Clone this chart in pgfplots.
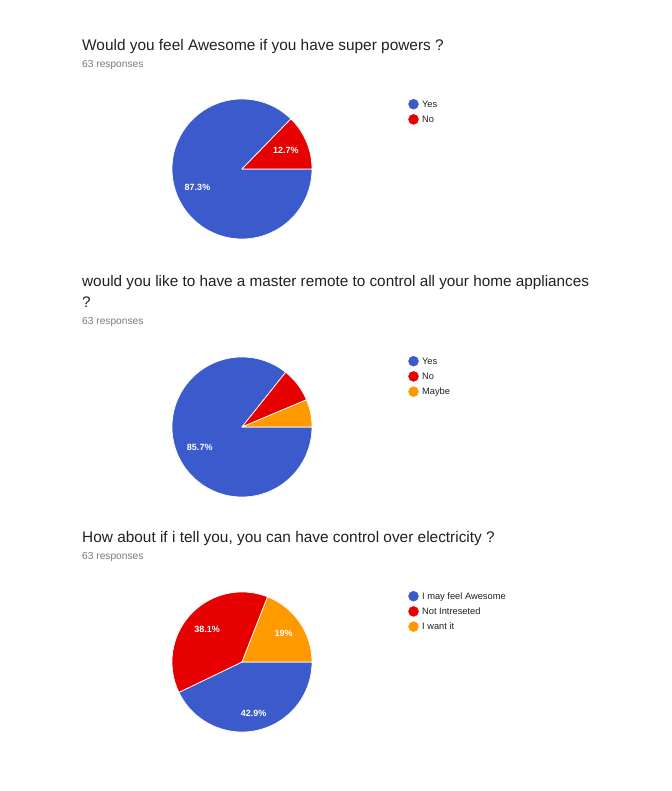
\documentclass[border=0pt]{standalone}
\usepackage{fontspec}
\setmainfont{Liberation Sans}
\usepackage{pgfplots}
\usepackage{pgfplotstable}
\pgfplotsset{compat=1.18}
\definecolor{gblue}{HTML}{3B5BCC}
\definecolor{gred}{HTML}{E60000}
\definecolor{gorange}{HTML}{FF9900}
\definecolor{ttl}{HTML}{212121}
\definecolor{sub}{HTML}{7A7A7A}

\pgfplotstableread[col sep=comma]{
label,count
Yes,55
No,8
}\pieA
\pgfplotstableread[col sep=comma]{
label,count
Yes,54
No,5
Maybe,4
}\pieB
\pgfplotstableread[col sep=comma]{
label,count
I may feel Awesome,27
Not Intreseted,24
I want it,12
}\pieC

\newcommand\getc[3]{\pgfplotstablegetelem{#2}{count}\of#1\let#3\pgfplotsretval}
\getc\pieA{0}\cAa \getc\pieA{1}\cAb
\getc\pieB{0}\cBa \getc\pieB{1}\cBb \getc\pieB{2}\cBc
\getc\pieC{0}\cCa \getc\pieC{1}\cCb \getc\pieC{2}\cCc
% pie A: No from 0, Yes after
\pgfmathsetmacro\angA{360*\cAb/(\cAa+\cAb)}
\pgfmathsetmacro\midAa{(\angA+360)/2}
\pgfmathsetmacro\midAb{\angA/2}
% pie B: Maybe from 0, then No, then Yes
\pgfmathsetmacro\totB{\cBa+\cBb+\cBc}
\pgfmathsetmacro\angBa{360*\cBc/\totB}
\pgfmathsetmacro\angBb{\angBa+360*\cBb/\totB}
\pgfmathsetmacro\midBa{(\angBb+360)/2}
% pie C: I want it from 0, then Not Intreseted, then I may feel Awesome
\pgfmathsetmacro\totC{\cCa+\cCb+\cCc}
\pgfmathsetmacro\angCa{360*\cCc/\totC}
\pgfmathsetmacro\angCb{\angCa+360*\cCb/\totC}
\pgfmathsetmacro\midCa{(\angCb+360)/2}
\pgfmathsetmacro\midCb{(\angCa+\angCb)/2}
\pgfmathsetmacro\midCc{\angCa/2}

\newcommand\slice[3]{\fill[#3, draw=white, line width=0.7pt, line join=round] (axis cs:0,0) -- (axis cs:{cos(#1)},{sin(#1)}) arc[start angle=#1, end angle=#2, radius=70pt] -- cycle;}
\newcommand\plabel[3]{\node[text=white, inner sep=0pt, font=\bfseries\fontsize{9}{10}\selectfont] at (axis cs:{#2*cos(#1)},{#2*sin(#1)}) {#3};}

\pgfplotsset{pie/.style={hide axis, scale only axis, width=140pt, height=140pt,
  xmin=-1, xmax=1, ymin=-1, ymax=1, clip=false, anchor=center,
  legend cell align=left,
  legend style={draw=none, fill=none, inner sep=0pt, outer sep=0pt, row sep=4.8pt,
    anchor=north west, font=\fontsize{9.3}{11}\selectfont,
    nodes={inner sep=0pt, text height=8pt, text depth=1.34pt, text=ttl},
    /tikz/every odd column/.append style={column sep=3.4pt}},
  legend image code/.code={\fill[##1] (5pt,0pt) circle[radius=5pt];}}}

\begin{document}
\begin{tikzpicture}[x=1pt, y=1pt]
\fill[white] (0,0) rectangle (671,791);

% ---------- chart 1
\node[anchor=base west, inner sep=0pt, text=ttl, font=\fontsize{15.4}{18}\selectfont] at (82,740.5) {Would you feel Awesome if you have super powers ?};
\node[anchor=base west, inner sep=0pt, text=sub, font=\fontsize{10.2}{12}\selectfont] at (82,723.5) {63 responses};
\begin{axis}[pie, at={(242pt,622pt)}, legend style={at={(1.688,1.0)}}]
\addlegendimage{gblue}
\addlegendimage{gred}
\slice{\angA}{360}{gblue}
\slice{0}{\angA}{gred}
\plabel{\midAa}{0.69}{87.3\%}
\plabel{\midAb}{0.68}{12.7\%}
\legend{Yes,No}
\end{axis}

% ---------- chart 2
\node[anchor=base west, inner sep=0pt, text=ttl, font=\fontsize{15.3}{18}\selectfont] at (82,504.5) {would you like to have a master remote to control all your home appliances};
\node[anchor=base west, inner sep=0pt, text=ttl, font=\fontsize{15.3}{18}\selectfont] at (82,483.5) {?};
\node[anchor=base west, inner sep=0pt, text=sub, font=\fontsize{10.2}{12}\selectfont] at (82,466) {63 responses};
\begin{axis}[pie, at={(242pt,364pt)}, legend style={at={(1.688,1.007)}}]
\addlegendimage{gblue}
\addlegendimage{gred}
\addlegendimage{gorange}
\slice{\angBb}{360}{gblue}
\slice{\angBa}{\angBb}{gred}
\slice{0}{\angBa}{gorange}
\plabel{\midBa}{0.67}{85.7\%}
\legend{Yes,No,Maybe}
\end{axis}

% ---------- chart 3
\node[anchor=base west, inner sep=0pt, text=ttl, font=\fontsize{15.4}{18}\selectfont] at (82,248) {How about if i tell you, you can have control over electricity ?};
\node[anchor=base west, inner sep=0pt, text=sub, font=\fontsize{10.2}{12}\selectfont] at (82,231.5) {63 responses};
\begin{axis}[pie, at={(242pt,129pt)}, legend style={at={(1.688,1.007)}}]
\addlegendimage{gblue}
\addlegendimage{gred}
\addlegendimage{gorange}
\slice{\angCb}{360}{gblue}
\slice{\angCa}{\angCb}{gred}
\slice{0}{\angCa}{gorange}
\plabel{\midCa}{0.75}{42.9\%}
\plabel{\midCb}{0.68}{38.1\%}
\plabel{\midCc}{0.72}{19\%}
\legend{I may feel Awesome,Not Intreseted,I want it}
\end{axis}
\end{tikzpicture}
\end{document}
